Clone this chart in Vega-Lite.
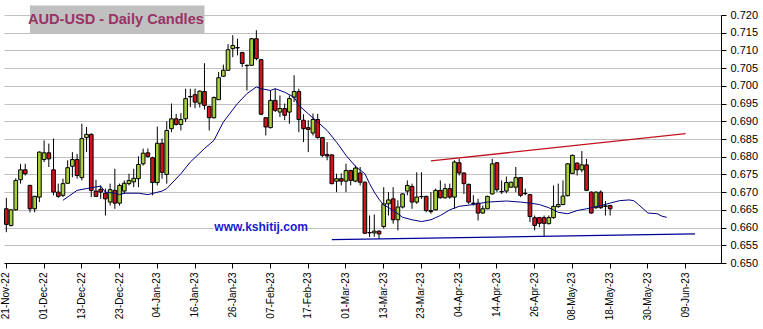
{
  "$schema": "https://vega.github.io/schema/vega-lite/v6.json",
  "width": 717,
  "height": 248,
  "autosize": "none",
  "padding": {"left": 4, "top": 15, "right": 42, "bottom": 66},
  "background": "white",
  "config": {
    "view": {"stroke": null},
    "font": "Liberation Sans",
    "axisY": {
      "tickCount": 15,
      "format": ".3f",
      "labelFontSize": 11,
      "labelFont": "Liberation Sans",
      "labelColor": "#000000",
      "tickColor": "#000000",
      "tickSize": 5,
      "domainColor": "#000000",
      "labelPadding": 4,
      "grid": true,
      "gridColor": "#c0c0c0",
      "gridOpacity": 1
    }
  },
  "datasets": {
    "candles": [
      {"d":"2022-11-21","o":0.6653,"h":0.6684,"l":0.6587,"c":0.6609},
      {"d":"2022-11-22","o":0.6606,"h":0.6652,"l":0.6603,"c":0.6650},
      {"d":"2022-11-23","o":0.6650,"h":0.6739,"l":0.6648,"c":0.6733},
      {"d":"2022-11-24","o":0.6735,"h":0.6780,"l":0.6724,"c":0.6763},
      {"d":"2022-11-25","o":0.6763,"h":0.6780,"l":0.6747,"c":0.6752},
      {"d":"2022-11-28","o":0.6719,"h":0.6721,"l":0.6643,"c":0.6653},
      {"d":"2022-11-29","o":0.6653,"h":0.6690,"l":0.6643,"c":0.6688},
      {"d":"2022-11-30","o":0.6686,"h":0.6815,"l":0.6672,"c":0.6813},
      {"d":"2022-12-01","o":0.6792,"h":0.6846,"l":0.6785,"c":0.6811},
      {"d":"2022-12-02","o":0.6811,"h":0.6837,"l":0.6771,"c":0.6794},
      {"d":"2022-12-05","o":0.6763,"h":0.6851,"l":0.6691,"c":0.6700},
      {"d":"2022-12-06","o":0.6700,"h":0.6724,"l":0.6684,"c":0.6688},
      {"d":"2022-12-07","o":0.6691,"h":0.6738,"l":0.6686,"c":0.6724},
      {"d":"2022-12-08","o":0.6725,"h":0.6790,"l":0.6725,"c":0.6769},
      {"d":"2022-12-09","o":0.6773,"h":0.6813,"l":0.6742,"c":0.6792},
      {"d":"2022-12-12","o":0.6792,"h":0.6808,"l":0.6738,"c":0.6747},
      {"d":"2022-12-13","o":0.6741,"h":0.6893,"l":0.6733,"c":0.6851},
      {"d":"2022-12-14","o":0.6854,"h":0.6884,"l":0.6813,"c":0.6863},
      {"d":"2022-12-15","o":0.6863,"h":0.6866,"l":0.6686,"c":0.6705},
      {"d":"2022-12-16","o":0.6703,"h":0.6735,"l":0.6686,"c":0.6688},
      {"d":"2022-12-19","o":0.6708,"h":0.6719,"l":0.6681,"c":0.6700},
      {"d":"2022-12-20","o":0.6697,"h":0.6710,"l":0.6634,"c":0.6681},
      {"d":"2022-12-21","o":0.6672,"h":0.6724,"l":0.6662,"c":0.6707},
      {"d":"2022-12-22","o":0.6705,"h":0.6766,"l":0.6653,"c":0.6669},
      {"d":"2022-12-23","o":0.6669,"h":0.6724,"l":0.6662,"c":0.6719},
      {"d":"2022-12-26","o":0.6703,"h":0.6733,"l":0.6695,"c":0.6725},
      {"d":"2022-12-27","o":0.6724,"h":0.6752,"l":0.6719,"c":0.6733},
      {"d":"2022-12-28","o":0.6729,"h":0.6766,"l":0.6714,"c":0.6739},
      {"d":"2022-12-29","o":0.6738,"h":0.6801,"l":0.6714,"c":0.6778},
      {"d":"2022-12-30","o":0.6780,"h":0.6823,"l":0.6775,"c":0.6810},
      {"d":"2023-01-02","o":0.6811,"h":0.6823,"l":0.6797,"c":0.6801},
      {"d":"2023-01-03","o":0.6797,"h":0.6800,"l":0.6691,"c":0.6727},
      {"d":"2023-01-04","o":0.6727,"h":0.6885,"l":0.6719,"c":0.6838},
      {"d":"2023-01-05","o":0.6838,"h":0.6851,"l":0.6738,"c":0.6756},
      {"d":"2023-01-06","o":0.6750,"h":0.6900,"l":0.6724,"c":0.6874},
      {"d":"2023-01-09","o":0.6879,"h":0.6950,"l":0.6869,"c":0.6907},
      {"d":"2023-01-10","o":0.6907,"h":0.6921,"l":0.6888,"c":0.6891},
      {"d":"2023-01-11","o":0.6891,"h":0.6923,"l":0.6874,"c":0.6905},
      {"d":"2023-01-12","o":0.6907,"h":0.6992,"l":0.6898,"c":0.6964},
      {"d":"2023-01-13","o":0.6970,"h":0.6992,"l":0.6940,"c":0.6969},
      {"d":"2023-01-16","o":0.6975,"h":0.6992,"l":0.6937,"c":0.6954},
      {"d":"2023-01-17","o":0.6951,"h":0.6987,"l":0.6939,"c":0.6985},
      {"d":"2023-01-18","o":0.6984,"h":0.7064,"l":0.6933,"c":0.6945},
      {"d":"2023-01-19","o":0.6942,"h":0.6944,"l":0.6874,"c":0.6910},
      {"d":"2023-01-20","o":0.6910,"h":0.6970,"l":0.6908,"c":0.6967},
      {"d":"2023-01-23","o":0.6961,"h":0.7039,"l":0.6961,"c":0.7023},
      {"d":"2023-01-24","o":0.7027,"h":0.7060,"l":0.7025,"c":0.7044},
      {"d":"2023-01-25","o":0.7044,"h":0.7118,"l":0.7044,"c":0.7102},
      {"d":"2023-01-26","o":0.7105,"h":0.7143,"l":0.7081,"c":0.7114},
      {"d":"2023-01-27","o":0.7108,"h":0.7133,"l":0.7086,"c":0.7107},
      {"d":"2023-01-30","o":0.7094,"h":0.7096,"l":0.7053,"c":0.7063},
      {"d":"2023-01-31","o":0.7058,"h":0.7060,"l":0.6987,"c":0.7057},
      {"d":"2023-02-01","o":0.7058,"h":0.7135,"l":0.7056,"c":0.7133},
      {"d":"2023-02-02","o":0.7133,"h":0.7157,"l":0.7072,"c":0.7077},
      {"d":"2023-02-03","o":0.7074,"h":0.7076,"l":0.6917,"c":0.6920},
      {"d":"2023-02-06","o":0.6910,"h":0.6912,"l":0.6860,"c":0.6884},
      {"d":"2023-02-07","o":0.6882,"h":0.6987,"l":0.6880,"c":0.6959},
      {"d":"2023-02-08","o":0.6959,"h":0.6992,"l":0.6926,"c":0.6931},
      {"d":"2023-02-09","o":0.6926,"h":0.6973,"l":0.6912,"c":0.6936},
      {"d":"2023-02-10","o":0.6936,"h":0.6950,"l":0.6903,"c":0.6917},
      {"d":"2023-02-13","o":0.6926,"h":0.6973,"l":0.6893,"c":0.6964},
      {"d":"2023-02-14","o":0.6968,"h":0.7030,"l":0.6954,"c":0.6984},
      {"d":"2023-02-15","o":0.6984,"h":0.6992,"l":0.6869,"c":0.6905},
      {"d":"2023-02-16","o":0.6903,"h":0.6920,"l":0.6841,"c":0.6879},
      {"d":"2023-02-17","o":0.6882,"h":0.6903,"l":0.6813,"c":0.6877},
      {"d":"2023-02-20","o":0.6867,"h":0.6922,"l":0.6860,"c":0.6905},
      {"d":"2023-02-21","o":0.6905,"h":0.6921,"l":0.6851,"c":0.6854},
      {"d":"2023-02-22","o":0.6854,"h":0.6856,"l":0.6799,"c":0.6804},
      {"d":"2023-02-23","o":0.6806,"h":0.6841,"l":0.6790,"c":0.6802},
      {"d":"2023-02-24","o":0.6805,"h":0.6807,"l":0.6722,"c":0.6724},
      {"d":"2023-02-27","o":0.6731,"h":0.6752,"l":0.6700,"c":0.6738},
      {"d":"2023-02-28","o":0.6738,"h":0.6753,"l":0.6719,"c":0.6731},
      {"d":"2023-03-01","o":0.6731,"h":0.6780,"l":0.6700,"c":0.6761},
      {"d":"2023-03-02","o":0.6761,"h":0.6763,"l":0.6719,"c":0.6733},
      {"d":"2023-03-03","o":0.6731,"h":0.6775,"l":0.6728,"c":0.6768},
      {"d":"2023-03-06","o":0.6754,"h":0.6771,"l":0.6719,"c":0.6728},
      {"d":"2023-03-07","o":0.6728,"h":0.6730,"l":0.6582,"c":0.6584},
      {"d":"2023-03-08","o":0.6586,"h":0.6634,"l":0.6573,"c":0.6585},
      {"d":"2023-03-09","o":0.6585,"h":0.6637,"l":0.6574,"c":0.6590},
      {"d":"2023-03-10","o":0.6590,"h":0.6592,"l":0.6568,"c":0.6582},
      {"d":"2023-03-13","o":0.6603,"h":0.6714,"l":0.6597,"c":0.6667},
      {"d":"2023-03-14","o":0.6667,"h":0.6700,"l":0.6634,"c":0.6678},
      {"d":"2023-03-15","o":0.6681,"h":0.6714,"l":0.6611,"c":0.6622},
      {"d":"2023-03-16","o":0.6622,"h":0.6677,"l":0.6592,"c":0.6658},
      {"d":"2023-03-17","o":0.6658,"h":0.6697,"l":0.6654,"c":0.6695},
      {"d":"2023-03-20","o":0.6703,"h":0.6733,"l":0.6691,"c":0.6719},
      {"d":"2023-03-21","o":0.6716,"h":0.6724,"l":0.6653,"c":0.6672},
      {"d":"2023-03-22","o":0.6672,"h":0.6756,"l":0.6667,"c":0.6686},
      {"d":"2023-03-23","o":0.6688,"h":0.6756,"l":0.6681,"c":0.6687},
      {"d":"2023-03-24","o":0.6688,"h":0.6690,"l":0.6643,"c":0.6648},
      {"d":"2023-03-27","o":0.6648,"h":0.6700,"l":0.6639,"c":0.6645},
      {"d":"2023-03-28","o":0.6650,"h":0.6710,"l":0.6648,"c":0.6705},
      {"d":"2023-03-29","o":0.6705,"h":0.6733,"l":0.6682,"c":0.6684},
      {"d":"2023-03-30","o":0.6684,"h":0.6724,"l":0.6682,"c":0.6710},
      {"d":"2023-03-31","o":0.6710,"h":0.6724,"l":0.6681,"c":0.6686},
      {"d":"2023-04-03","o":0.6686,"h":0.6790,"l":0.6653,"c":0.6785},
      {"d":"2023-04-04","o":0.6783,"h":0.6794,"l":0.6747,"c":0.6754},
      {"d":"2023-04-05","o":0.6754,"h":0.6756,"l":0.6695,"c":0.6724},
      {"d":"2023-04-06","o":0.6722,"h":0.6724,"l":0.6667,"c":0.6672},
      {"d":"2023-04-07","o":0.6669,"h":0.6691,"l":0.6662,"c":0.6668},
      {"d":"2023-04-10","o":0.6669,"h":0.6681,"l":0.6620,"c":0.6641},
      {"d":"2023-04-11","o":0.6641,"h":0.6662,"l":0.6639,"c":0.6653},
      {"d":"2023-04-12","o":0.6653,"h":0.6690,"l":0.6652,"c":0.6688},
      {"d":"2023-04-13","o":0.6695,"h":0.6794,"l":0.6693,"c":0.6780},
      {"d":"2023-04-14","o":0.6783,"h":0.6785,"l":0.6700,"c":0.6707},
      {"d":"2023-04-17","o":0.6702,"h":0.6733,"l":0.6695,"c":0.6701},
      {"d":"2023-04-18","o":0.6703,"h":0.6744,"l":0.6697,"c":0.6727},
      {"d":"2023-04-19","o":0.6714,"h":0.6730,"l":0.6712,"c":0.6728},
      {"d":"2023-04-20","o":0.6714,"h":0.6771,"l":0.6700,"c":0.6741},
      {"d":"2023-04-21","o":0.6741,"h":0.6743,"l":0.6686,"c":0.6691},
      {"d":"2023-04-24","o":0.6697,"h":0.6710,"l":0.6691,"c":0.6696},
      {"d":"2023-04-25","o":0.6693,"h":0.6695,"l":0.6615,"c":0.6631},
      {"d":"2023-04-26","o":0.6628,"h":0.6634,"l":0.6592,"c":0.6606},
      {"d":"2023-04-27","o":0.6628,"h":0.6630,"l":0.6601,"c":0.6612},
      {"d":"2023-04-28","o":0.6628,"h":0.6634,"l":0.6575,"c":0.6612},
      {"d":"2023-05-01","o":0.6611,"h":0.6634,"l":0.6609,"c":0.6628},
      {"d":"2023-05-02","o":0.6628,"h":0.6719,"l":0.6625,"c":0.6660},
      {"d":"2023-05-03","o":0.6659,"h":0.6724,"l":0.6656,"c":0.6665},
      {"d":"2023-05-04","o":0.6665,"h":0.6733,"l":0.6663,"c":0.6689},
      {"d":"2023-05-05","o":0.6690,"h":0.6782,"l":0.6688,"c":0.6780},
      {"d":"2023-05-08","o":0.6753,"h":0.6806,"l":0.6751,"c":0.6804},
      {"d":"2023-05-09","o":0.6782,"h":0.6784,"l":0.6747,"c":0.6763},
      {"d":"2023-05-10","o":0.6763,"h":0.6816,"l":0.6756,"c":0.6777},
      {"d":"2023-05-11","o":0.6777,"h":0.6794,"l":0.6703,"c":0.6705},
      {"d":"2023-05-12","o":0.6700,"h":0.6702,"l":0.6639,"c":0.6641},
      {"d":"2023-05-15","o":0.6656,"h":0.6702,"l":0.6653,"c":0.6700},
      {"d":"2023-05-16","o":0.6700,"h":0.6705,"l":0.6653,"c":0.6656},
      {"d":"2023-05-17","o":0.6661,"h":0.6675,"l":0.6634,"c":0.6660},
      {"d":"2023-05-18","o":0.6662,"h":0.6664,"l":0.6634,"c":0.6653}
    ],
    "ma": [
      {"d":"2022-12-07","v":0.6677},{"d":"2022-12-12","v":0.6705},{"d":"2022-12-14","v":0.6710},
      {"d":"2022-12-19","v":0.6717},{"d":"2022-12-20","v":0.6700},{"d":"2022-12-22","v":0.6697},
      {"d":"2022-12-23","v":0.6693},{"d":"2022-12-26","v":0.6697},{"d":"2022-12-29","v":0.6697},
      {"d":"2023-01-02","v":0.6693},{"d":"2023-01-05","v":0.6703},{"d":"2023-01-06","v":0.6710},
      {"d":"2023-01-11","v":0.6752},{"d":"2023-01-13","v":0.6785},{"d":"2023-01-18","v":0.6823},
      {"d":"2023-01-20","v":0.6846},{"d":"2023-01-24","v":0.6898},{"d":"2023-01-27","v":0.6950},
      {"d":"2023-01-31","v":0.6978},{"d":"2023-02-02","v":0.6997},{"d":"2023-02-03","v":0.6992},
      {"d":"2023-02-07","v":0.6987},{"d":"2023-02-08","v":0.6992},{"d":"2023-02-10","v":0.6982},
      {"d":"2023-02-14","v":0.6968},{"d":"2023-02-15","v":0.6945},{"d":"2023-02-17","v":0.6921},
      {"d":"2023-02-21","v":0.6898},{"d":"2023-02-23","v":0.6874},{"d":"2023-02-27","v":0.6841},
      {"d":"2023-03-01","v":0.6804},{"d":"2023-03-03","v":0.6773},{"d":"2023-03-07","v":0.6752},
      {"d":"2023-03-08","v":0.6724},{"d":"2023-03-09","v":0.6700},{"d":"2023-03-10","v":0.6680},
      {"d":"2023-03-13","v":0.6663},{"d":"2023-03-14","v":0.6657},{"d":"2023-03-16","v":0.6639},
      {"d":"2023-03-17","v":0.6629},{"d":"2023-03-21","v":0.6622},{"d":"2023-03-23","v":0.6617},
      {"d":"2023-03-27","v":0.6622},{"d":"2023-03-29","v":0.6634},{"d":"2023-03-31","v":0.6650},
      {"d":"2023-04-04","v":0.6660},{"d":"2023-04-07","v":0.6665},{"d":"2023-04-12","v":0.6672},
      {"d":"2023-04-18","v":0.6675},{"d":"2023-04-21","v":0.6672},{"d":"2023-04-25","v":0.6669},
      {"d":"2023-04-27","v":0.6665},{"d":"2023-05-01","v":0.6656},{"d":"2023-05-03","v":0.6643},
      {"d":"2023-05-05","v":0.6639},{"d":"2023-05-09","v":0.6648},{"d":"2023-05-11","v":0.6653},
      {"d":"2023-05-16","v":0.6662},{"d":"2023-05-18","v":0.6669},{"d":"2023-05-22","v":0.6676},
      {"d":"2023-05-24","v":0.6678},{"d":"2023-05-25","v":0.6676},{"d":"2023-05-26","v":0.6665},
      {"d":"2023-05-30","v":0.6641},{"d":"2023-06-01","v":0.6639},{"d":"2023-06-02","v":0.6632},
      {"d":"2023-06-05","v":0.6629}
    ],
    "trendUpper": [{"d":"2023-03-27","v":0.6788},{"d":"2023-06-09","v":0.6865}],
    "trendLower": [{"d":"2023-02-24","v":0.6566},{"d":"2023-06-13","v":0.6582}],
    "titleBox": [{"d":"2022-11-28","d2":"2023-01-18","top":0.7227,"bot":0.7148}],
    "siteBox": [{"d":"2023-01-20","d2":"2023-02-16","top":0.6618,"bot":0.6578}],
    "titleText": [{"d":"2022-11-28","v":0.7174,"t":"AUD-USD - Daily Candles"}],
    "site": [{"d":"2023-02-03","v":0.6589,"t":"www.kshitij.com"}]
  },
  "encoding": {
    "x": {
      "field": "d",
      "type": "ordinal",
      "scale": {
        "paddingInner": 0.22,
        "paddingOuter": 0.11,
        "domain": [
          "2022-11-21","2022-11-22","2022-11-23","2022-11-24","2022-11-25",
          "2022-11-28","2022-11-29","2022-11-30","2022-12-01","2022-12-02",
          "2022-12-05","2022-12-06","2022-12-07","2022-12-08","2022-12-09",
          "2022-12-12","2022-12-13","2022-12-14","2022-12-15","2022-12-16",
          "2022-12-19","2022-12-20","2022-12-21","2022-12-22","2022-12-23",
          "2022-12-26","2022-12-27","2022-12-28","2022-12-29","2022-12-30",
          "2023-01-02","2023-01-03","2023-01-04","2023-01-05","2023-01-06",
          "2023-01-09","2023-01-10","2023-01-11","2023-01-12","2023-01-13",
          "2023-01-16","2023-01-17","2023-01-18","2023-01-19","2023-01-20",
          "2023-01-23","2023-01-24","2023-01-25","2023-01-26","2023-01-27",
          "2023-01-30","2023-01-31","2023-02-01","2023-02-02","2023-02-03",
          "2023-02-06","2023-02-07","2023-02-08","2023-02-09","2023-02-10",
          "2023-02-13","2023-02-14","2023-02-15","2023-02-16","2023-02-17",
          "2023-02-20","2023-02-21","2023-02-22","2023-02-23","2023-02-24",
          "2023-02-27","2023-02-28","2023-03-01","2023-03-02","2023-03-03",
          "2023-03-06","2023-03-07","2023-03-08","2023-03-09","2023-03-10",
          "2023-03-13","2023-03-14","2023-03-15","2023-03-16","2023-03-17",
          "2023-03-20","2023-03-21","2023-03-22","2023-03-23","2023-03-24",
          "2023-03-27","2023-03-28","2023-03-29","2023-03-30","2023-03-31",
          "2023-04-03","2023-04-04","2023-04-05","2023-04-06","2023-04-07",
          "2023-04-10","2023-04-11","2023-04-12","2023-04-13","2023-04-14",
          "2023-04-17","2023-04-18","2023-04-19","2023-04-20","2023-04-21",
          "2023-04-24","2023-04-25","2023-04-26","2023-04-27","2023-04-28",
          "2023-05-01","2023-05-02","2023-05-03","2023-05-04","2023-05-05",
          "2023-05-08","2023-05-09","2023-05-10","2023-05-11","2023-05-12",
          "2023-05-15","2023-05-16","2023-05-17","2023-05-18","2023-05-19",
          "2023-05-22","2023-05-23","2023-05-24","2023-05-25","2023-05-26",
          "2023-05-29","2023-05-30","2023-05-31","2023-06-01","2023-06-02",
          "2023-06-05","2023-06-06","2023-06-07","2023-06-08","2023-06-09",
          "2023-06-12","2023-06-13","2023-06-14","2023-06-15","2023-06-16",
          "2023-06-19","2023-06-20"
        ]
      },
      "axis": {
        "values": ["2022-11-21","2022-12-01","2022-12-13","2022-12-23","2023-01-04","2023-01-16","2023-01-26","2023-02-07","2023-02-17","2023-03-01","2023-03-13","2023-03-23","2023-04-04","2023-04-14","2023-04-26","2023-05-08","2023-05-18","2023-05-30","2023-06-09"],
        "labelExpr": "utcFormat(toDate(datum.value), '%d-%b-%y')",
        "labelAngle": 270,
        "labelFontSize": 10,
        "labelFont": "Liberation Sans",
        "labelColor": "#000000",
        "tickColor": "#000000",
        "tickSize": 5,
        "domainColor": "#000000",
        "labelPadding": 4,
        "grid": false,
        "title": null
      }
    }
  },
  "layer": [
    {
      "data": {"name": "siteBox"},
      "mark": {"type": "rect", "color": "#ffffff"},
      "encoding": {
        "x2": {"field": "d2"},
        "y": {"field": "top", "type": "quantitative", "scale": {"domain": [0.65, 0.72], "zero": false, "nice": false}, "axis": {"orient": "right", "title": null}},
        "y2": {"field": "bot"}
      }
    },
    {
      "data": {"name": "candles"},
      "mark": {"type": "rule", "color": "#000000", "strokeWidth": 1},
      "encoding": {
        "y": {"field": "l", "type": "quantitative", "axis": {"orient": "right", "title": null}},
        "y2": {"field": "h"}
      }
    },
    {
      "data": {"name": "candles"},
      "mark": {"type": "bar", "stroke": "#000000", "strokeWidth": 1},
      "encoding": {
        "y": {"field": "o", "type": "quantitative", "axis": {"orient": "right", "title": null}},
        "y2": {"field": "c"},
        "fill": {"condition": {"test": "datum.c >= datum.o", "value": "#a6d13a"}, "value": "#d0141e"}
      }
    },
    {
      "data": {"name": "ma"},
      "mark": {"type": "line", "color": "#000080", "strokeWidth": 1},
      "encoding": {"y": {"field": "v", "type": "quantitative", "axis": {"orient": "right", "title": null}}}
    },
    {
      "data": {"name": "trendUpper"},
      "mark": {"type": "line", "color": "#c0141e", "strokeWidth": 1.3},
      "encoding": {"y": {"field": "v", "type": "quantitative", "axis": {"orient": "right", "title": null}}}
    },
    {
      "data": {"name": "trendLower"},
      "mark": {"type": "line", "color": "#000099", "strokeWidth": 1.3},
      "encoding": {"y": {"field": "v", "type": "quantitative", "axis": {"orient": "right", "title": null}}}
    },
    {
      "data": {"name": "titleBox"},
      "mark": {"type": "rect", "color": "#c0c0c0"},
      "encoding": {
        "x2": {"field": "d2"},
        "y": {"field": "top", "type": "quantitative", "axis": {"orient": "right", "title": null}},
        "y2": {"field": "bot"}
      }
    },
    {
      "data": {"name": "titleText"},
      "mark": {"type": "text", "align": "left", "baseline": "alphabetic", "dx": -2, "font": "Liberation Sans", "fontWeight": "bold", "fontSize": 14.6, "color": "#993366"},
      "encoding": {
        "y": {"field": "v", "type": "quantitative", "axis": {"orient": "right", "title": null}},
        "text": {"field": "t"}
      }
    },
    {
      "data": {"name": "site"},
      "mark": {"type": "text", "align": "center", "baseline": "alphabetic", "font": "Liberation Sans", "fontWeight": "bold", "fontSize": 12, "color": "#1a1acc"},
      "encoding": {
        "y": {"field": "v", "type": "quantitative", "axis": {"orient": "right", "title": null}},
        "text": {"field": "t"}
      }
    }
  ]
}
